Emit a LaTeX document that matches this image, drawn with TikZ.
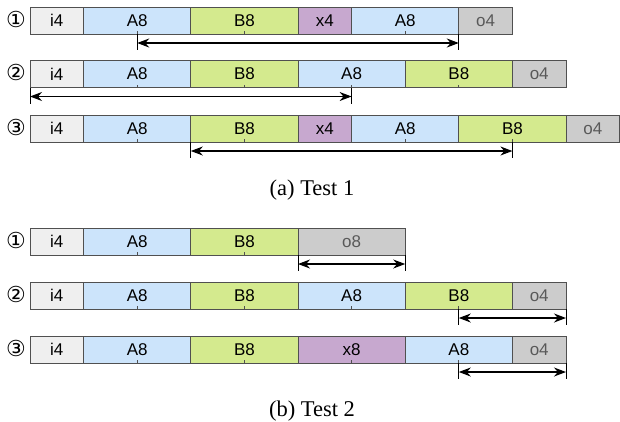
\documentclass[tikz,border=0pt]{standalone}
\usepackage{fontspec}
\setmainfont{Liberation Serif}
\setsansfont{Liberation Sans}
\newfontfamily\circfont{DejaVu Sans}
\usetikzlibrary{positioning,arrows.meta}
\definecolor{cin}{HTML}{EFEFEF}
\definecolor{caa}{HTML}{CCE4FB}
\definecolor{cbb}{HTML}{D4EA8E}
\definecolor{cxx}{HTML}{C7A8CF}
\definecolor{coo}{HTML}{CCCCCC}
\definecolor{edge}{HTML}{505050}
\tikzset{
  cell/.style={draw=edge, line width=0.9pt, minimum height=27pt, inner sep=0pt, outer sep=0pt,
    font=\sffamily\fontsize{17}{17}\selectfont},
  w4/.style={cell, minimum width=53.6pt},
  w8/.style={cell, minimum width=107.2pt,
    path picture={\draw[edge, line width=0.8pt] (path picture bounding box.south) -- ++(0,3pt);}},
  inb/.style={w4, fill=cin},
  abox/.style={w8, fill=caa},
  bbox/.style={w8, fill=cbb},
  xbox/.style={fill=cxx},
  obox/.style={fill=coo, text=black!65},
  tag/.style={font=\circfont\fontsize{22}{22}\selectfont},
  subcap/.style={font=\fontsize{22.5}{22.5}\selectfont},
  gap/.style={line width=1.1pt, {Stealth[length=12pt,width=9pt]}-{Stealth[length=12pt,width=9pt]}},
  bar/.style={line width=0.9pt}
}
% gap arrow between two bottom points
\def\gaparrow(#1)(#2){%
  \draw[bar] (#1) -- ++(0,16);
  \draw[bar] (#2) -- ++(0,16);
  \draw[gap] ([yshift=-9pt]#1) -- ([yshift=-9pt]#2);}

\begin{document}
\begin{tikzpicture}[x=1pt,y=-1pt]
		\useasboundingbox (0,0) rectangle (620,421);
		
		%%%%% TEST 1 %%%%%
		\node[tag] (t1) at (16,19) {①};
		\node[inb, anchor=west] (r1i) at (30,20.5) {i4};
		\node[abox, right=0pt of r1i] (r1a) {A8};
		\node[bbox, right=0pt of r1a] (r1b) {B8};
		\node[w4, xbox, right=0pt of r1b] (r1x) {x4};
		\node[abox, right=0pt of r1x] (r1a2) {A8};
		\node[w4, obox, right=0pt of r1a2] (r1o) {o4};
		\gaparrow(r1a.south)(r1a2.south east)
		
		\node[tag] (t2) at (16,72.5) {②};
		\node[inb, anchor=west] (r2i) at (30,74) {i4};
		\node[abox, right=0pt of r2i] (r2a) {A8};
		\node[bbox, right=0pt of r2a] (r2b) {B8};
		\node[abox, right=0pt of r2b] (r2a2) {A8};
		\node[bbox, right=0pt of r2a2] (r2b2) {B8};
		\node[w4, obox, right=0pt of r2b2] (r2o) {o4};
		\gaparrow(r2i.south west)(r2a2.south)
		
		\node[tag] (t3) at (16,127) {③};
		\node[inb, anchor=west] (r3i) at (30,128.5) {i4};
		\node[abox, right=0pt of r3i] (r3a) {A8};
		\node[bbox, right=0pt of r3a] (r3b) {B8};
		\node[w4, xbox, right=0pt of r3b] (r3x) {x4};
		\node[abox, right=0pt of r3x] (r3a2) {A8};
		\node[bbox, right=0pt of r3a2] (r3b2) {B8};
		\node[w4, obox, right=0pt of r3b2] (r3o) {o4};
		\gaparrow(r3b.south west)(r3b2.south)
		
		\node[subcap] (capa) at (312,190) {(a) Test 1};
		
		%%%%% TEST 2 %%%%%
		\node[tag] (u1) at (16,240) {①};
		\node[inb, anchor=west] (s1i) at (30,241.5) {i4};
		\node[abox, right=0pt of s1i] (s1a) {A8};
		\node[bbox, right=0pt of s1a] (s1b) {B8};
		\node[cell, minimum width=107.2pt, obox, right=0pt of s1b] (s1o) {o8};
		\gaparrow(s1o.south west)(s1o.south east)
		
		\node[tag] (u2) at (16,294) {②};
		\node[inb, anchor=west] (s2i) at (30,295.5) {i4};
		\node[abox, right=0pt of s2i] (s2a) {A8};
		\node[bbox, right=0pt of s2a] (s2b) {B8};
		\node[abox, right=0pt of s2b] (s2a2) {A8};
		\node[bbox, right=0pt of s2a2] (s2b2) {B8};
		\node[w4, obox, right=0pt of s2b2] (s2o) {o4};
		\gaparrow(s2b2.south)(s2o.south east)
		
		\node[tag] (u3) at (16,348) {③};
		\node[inb, anchor=west] (s3i) at (30,349.5) {i4};
		\node[abox, right=0pt of s3i] (s3a) {A8};
		\node[bbox, right=0pt of s3a] (s3b) {B8};
		\node[w8, xbox, right=0pt of s3b] (s3x) {x8};
		\node[abox, right=0pt of s3x] (s3a2) {A8};
		\node[w4, obox, right=0pt of s3a2] (s3o) {o4};
		\gaparrow(s3a2.south)(s3o.south east)
		
		\node[subcap] (capb) at (312,411) {(b) Test 2};
		
\end{tikzpicture}
\end{document}
